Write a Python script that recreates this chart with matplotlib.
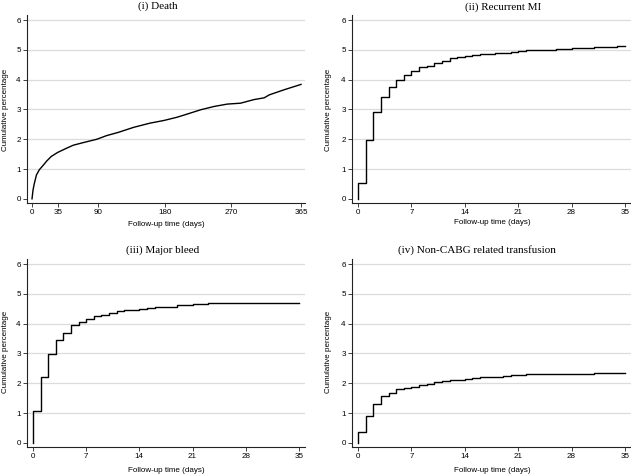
import numpy as np
import matplotlib.pyplot as plt

# (i) Death - smooth-ish KM curve over one year
death_days = [0, 1.4, 3, 6, 10, 15, 20, 26, 35, 47, 56, 70, 88, 101, 117, 138, 160, 179,
              197, 210, 229, 247, 265, 283, 301, 315, 322, 342, 365]
death_pct = [0, 0.3, 0.5, 0.8, 0.98, 1.12, 1.27, 1.42, 1.56, 1.7, 1.8, 1.89, 2.0, 2.12,
             2.23, 2.4, 2.54, 2.63, 2.74, 2.84, 2.99, 3.1, 3.18, 3.21, 3.33, 3.39, 3.49,
             3.66, 3.84]

# 35-day step curves, value held from day d to d+1
days35 = list(range(36))
mi_pct = [0.53, 1.98, 2.93, 3.41, 3.76, 4.0, 4.14, 4.29, 4.42, 4.46, 4.57, 4.62, 4.72,
          4.77, 4.8, 4.83, 4.85, 4.87, 4.88, 4.9, 4.92, 4.96, 4.98, 4.99, 5.0, 5.01,
          5.03, 5.04, 5.05, 5.06, 5.07, 5.08, 5.09, 5.1, 5.12, 5.13]
bleed_pct = [1.07, 2.21, 2.98, 3.45, 3.7, 3.94, 4.06, 4.16, 4.25, 4.29, 4.35, 4.41, 4.45,
             4.47, 4.5, 4.53, 4.55, 4.56, 4.57, 4.62, 4.64, 4.66, 4.67, 4.68, 4.68, 4.69,
             4.7, 4.7, 4.7, 4.7, 4.7, 4.7, 4.7, 4.7, 4.7, 4.7]
transf_pct = [0.38, 0.9, 1.31, 1.56, 1.67, 1.8, 1.84, 1.88, 1.94, 1.98, 2.03, 2.07, 2.1,
              2.12, 2.15, 2.18, 2.2, 2.2, 2.21, 2.24, 2.27, 2.29, 2.3, 2.31, 2.31, 2.31,
              2.32, 2.32, 2.32, 2.32, 2.32, 2.33, 2.33, 2.33, 2.33, 2.33]

titles = ["(i) Death", "(ii) Recurrent MI", "(iii) Major bleed",
          "(iv) Non-CABG related transfusion"]

W, H = 631, 476
fig = plt.figure(figsize=(W / 100, H / 100), dpi=100)
fig.patch.set_facecolor("white")

sans = "Liberation Sans"
serif = "Liberation Serif"
grid_col = "#dcdcdc"


def px(l, t, r, b):
    return [l / W, 1 - b / H, (r - l) / W, (b - t) / H]


def style(ax, xticks, xlim):
    ax.set_xlim(*xlim)
    ax.set_ylim(-0.14, 6.17)
    ax.set_yticks(range(7))
    ax.set_xticks(xticks)
    for y in range(1, 7):
        ax.axhline(y, color=grid_col, lw=0.9, zorder=0)
    for s in ["top", "right"]:
        ax.spines[s].set_visible(False)
    for s in ["left", "bottom"]:
        ax.spines[s].set_color("#222222")
        ax.spines[s].set_linewidth(0.8)
    ax.tick_params(length=3, width=0.6, color="#222222", labelsize=5.8, pad=1.5)
    for lab in ax.get_xticklabels() + ax.get_yticklabels():
        lab.set_fontfamily(sans)


# panel rectangles in pixels: left, top, right, bottom
rects = [(27, 15, 305, 203), (352, 15, 631, 203),
         (27, 259, 305, 447), (352, 259, 631, 447)]

ax1 = fig.add_axes(px(*rects[0]))
ax1.plot(death_days, death_pct, color="black", lw=1.0)
style(ax1, [0, 35, 90, 180, 270, 365], (-6.8, 370.4))

step_data = [mi_pct, bleed_pct, transf_pct]
axes = [ax1]
for i, vals in enumerate(step_data):
    ax = fig.add_axes(px(*rects[i + 1]))
    ax.step([0] + days35, [0] + vals, where="post", color="black", lw=1.0)
    style(ax, [0, 7, 14, 21, 28, 35], (-0.79, 35.8))
    axes.append(ax)

# titles (centred like Stata's graph regions)
title_pos = [(158, 6), (503, 7), (163, 250), (477, 250)]
for t, (x, y) in zip(titles, title_pos):
    fig.text(x / W, 1 - y / H, t, ha="center", va="center", fontsize=8,
             family=serif)

xlab_pos = [(166, 225), (492, 222), (166, 471), (492, 471)]
ylab_pos = [(6, 110), (329, 110), (6, 352), (329, 352)]
for (x, y) in xlab_pos:
    fig.text(x / W, 1 - y / H, "Follow-up time (days)", ha="center", va="center",
             fontsize=5.8, family=sans)
for (x, y) in ylab_pos:
    fig.text(x / W, 1 - y / H, "Cumulative percentage", ha="center", va="center",
             fontsize=5.8, family=sans, rotation=90)

fig.savefig("out.png", dpi=100)
